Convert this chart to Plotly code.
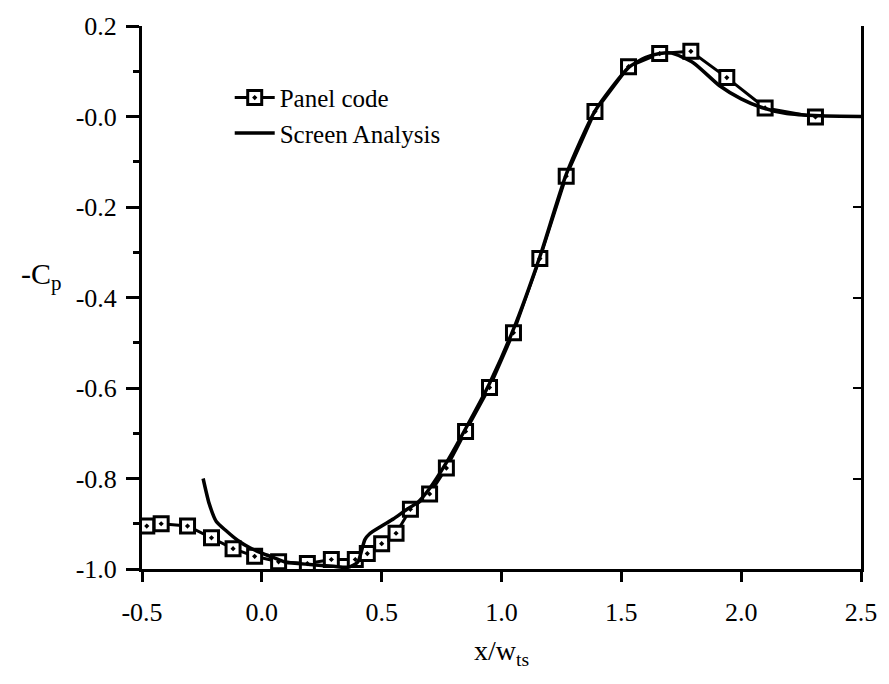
import plotly.graph_objects as go

# Panel code data (x/w_ts, -Cp)
panel_x = [-0.48, -0.42, -0.31, -0.21, -0.12, -0.03, 0.07, 0.19, 0.29, 0.39, 0.44,
           0.50, 0.56, 0.62, 0.70, 0.77, 0.85, 0.95, 1.05, 1.16, 1.27, 1.39,
           1.53, 1.66, 1.79, 1.94, 2.10, 2.31]
panel_y = [-0.905, -0.900, -0.905, -0.931, -0.955, -0.972, -0.984, -0.988, -0.979, -0.979, -0.966,
           -0.944, -0.921, -0.868, -0.834, -0.777, -0.696, -0.599, -0.478, -0.314, -0.132, 0.011,
           0.110, 0.139, 0.144, 0.086, 0.019, -0.001]

# Screen analysis data
screen_x = [-0.245, -0.22, -0.19, -0.15, -0.10, -0.05, 0.0, 0.05, 0.10, 0.20, 0.30, 0.36,
            0.40, 0.43, 0.45, 0.50, 0.55, 0.60, 0.65, 0.70, 0.77, 0.85, 0.95, 1.05,
            1.16, 1.27, 1.39, 1.53, 1.60, 1.66, 1.71, 1.80, 1.91, 2.00, 2.08, 2.19,
            2.33, 2.50]
screen_y = [-0.80, -0.855, -0.895, -0.915, -0.937, -0.953, -0.965, -0.975, -0.985, -0.990,
            -0.994, -0.996, -0.985, -0.935, -0.922, -0.905, -0.889, -0.870, -0.853, -0.822,
            -0.765, -0.690, -0.590, -0.470, -0.310, -0.128, 0.012, 0.108, 0.130, 0.139,
            0.140, 0.119, 0.068, 0.039, 0.021, 0.0065, 0.0015, 0.0]

x_ticks = [-0.5, 0.0, 0.5, 1.0, 1.5, 2.0, 2.5]
x_ticklabels = ["-0.5", "0.0", "0.5", "1.0", "1.5", "2.0", "2.5"]
y_ticks = [0.2, 0.0, -0.2, -0.4, -0.6, -0.8, -1.0]
y_ticklabels = ["0.2", "-0.0", "-0.2", "-0.4", "-0.6", "-0.8", "-1.0"]

FONT = "Liberation Serif, Times New Roman, serif"

fig = go.Figure()
fig.add_trace(go.Scatter(
    x=panel_x, y=panel_y, mode="lines+markers", name="Panel code",
    line=dict(color="black", width=3),
    marker=dict(symbol="square-dot", size=14, color="white",
                line=dict(color="black", width=3)),
))
fig.add_trace(go.Scatter(
    x=screen_x, y=screen_y, mode="lines", name="Screen Analysis",
    line=dict(color="black", width=3.5, shape="spline", smoothing=0.6),
))
# helper for right-side axis
fig.add_trace(go.Scatter(x=[x_ticks[0]], y=[y_ticks[-1]], yaxis="y2", mode="markers",
                         marker=dict(opacity=0), showlegend=False, hoverinfo="skip"))

fig.update_layout(
    width=889, height=684,
    margin=dict(l=142, r=17, t=16, b=115),
    paper_bgcolor="white", plot_bgcolor="white",
    font=dict(family=FONT, size=26, color="black"),
    showlegend=True,
    legend=dict(x=0.122, y=0.91, xanchor="left", yanchor="top",
                bgcolor="rgba(0,0,0,0)", font=dict(size=25, family=FONT),
                itemwidth=40, tracegroupgap=0),
    xaxis=dict(range=[-0.5, 2.5], tickvals=x_ticks, ticktext=x_ticklabels,
               showgrid=False, zeroline=False, showline=True, linecolor="black",
               linewidth=3, ticks="outside", ticklen=10, tickwidth=3,
               tickcolor="black", ticklabelstandoff=8),
    yaxis=dict(range=[-1.0, 0.2], tickvals=y_ticks, ticktext=y_ticklabels,
               showgrid=False, zeroline=False, showline=True, linecolor="black",
               linewidth=3, ticks="outside", ticklen=13, tickwidth=3,
               tickcolor="black", ticklabelstandoff=4,
               minor=dict(dtick=0.1, tick0=0, ticks="outside", ticklen=6,
                          tickwidth=3, tickcolor="black")),
    yaxis2=dict(range=[-1.0, 0.2], overlaying="y", side="right",
                tickvals=y_ticks, showticklabels=False, showgrid=False,
                zeroline=False, showline=True, linecolor="black", linewidth=3,
                ticks="inside", ticklen=8, tickwidth=2, tickcolor="black"),
)

fig.add_annotation(text="x/w<sub>ts</sub>", xref="paper", yref="paper",
                   x=0.5, y=-0.118, xanchor="center", yanchor="top",
                   showarrow=False, font=dict(size=28, family=FONT))
fig.add_annotation(text="-C<sub>p</sub>", xref="paper", yref="paper",
                   x=-0.108, y=0.54, xanchor="right", yanchor="middle",
                   showarrow=False, font=dict(size=30, family=FONT))

fig.write_html("out.html")
